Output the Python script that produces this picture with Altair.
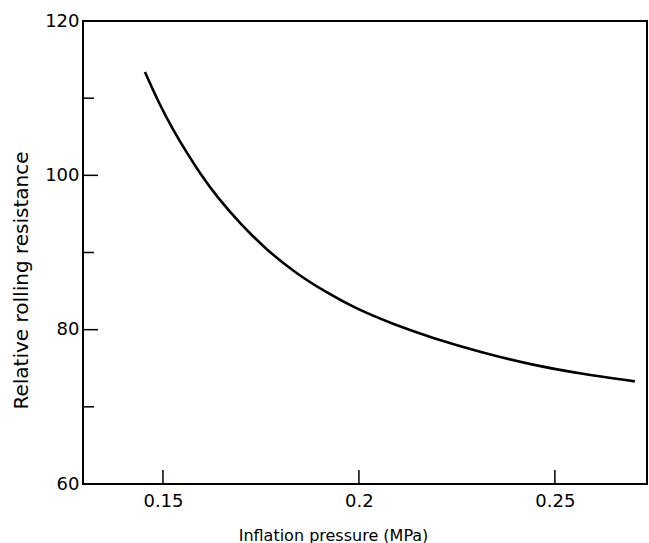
import altair as alt
import pandas as pd

pressure = [0.1454, 0.1492, 0.1526, 0.1561, 0.1594, 0.1638, 0.1696, 0.1765,
            0.1842, 0.1918, 0.1985, 0.2087, 0.2189, 0.2309, 0.2444, 0.2564, 0.2704]
resistance = [113.4, 109.1, 105.9, 102.9, 100.3, 97.2, 93.8, 90.3,
              87.2, 84.8, 82.9, 80.7, 78.9, 77.1, 75.4, 74.3, 73.3]

x_ticks = [0.15, 0.2, 0.25]
y_major = [60, 80, 100, 120]
y_minor = [70, 90, 110]

W, H = 564, 463
FONT = "DejaVu Sans"

xs = alt.Scale(domain=[0.1296, 0.2735], nice=False, zero=False)
ys = alt.Scale(domain=[60, 120], nice=False, zero=False)

df = pd.DataFrame({"p": pressure, "r": resistance})

line = alt.Chart(df).mark_line(color="black", strokeWidth=2.6, interpolate="basis").encode(
    x=alt.X("p:Q", scale=xs, title="Inflation pressure (MPa)",
            axis=alt.Axis(values=x_ticks, format="~g", domain=False, ticks=False, grid=False,
                          labelFont=FONT, labelFontSize=18, labelColor="black",
                          labelPadding=8,
                          titleFont=FONT, titleFontSize=16, titleFontWeight="normal",
                          titleColor="black", titleX=250, titleY=56,
                          titleBaseline="alphabetic", titleAlign="center")),
    y=alt.Y("r:Q", scale=ys, title="Relative rolling resistance",
            axis=alt.Axis(values=y_major, domain=False, ticks=False, grid=False,
                          labelFont=FONT, labelFontSize=18, labelColor="black",
                          labelPadding=4,
                          titleFont=FONT, titleFontSize=20, titleFontWeight="normal",
                          titleColor="black", titleX=-56, titleY=259, titleAngle=-90,
                          titleBaseline="alphabetic", titleAlign="center")),
)

ymaj = alt.Chart(pd.DataFrame({"v": y_major})).mark_rule(color="black", strokeWidth=1.5).encode(
    y=alt.Y("v:Q", scale=ys), x=alt.value(0), x2=alt.value(15))
ymin = alt.Chart(pd.DataFrame({"v": y_minor})).mark_rule(color="black", strokeWidth=1.5).encode(
    y=alt.Y("v:Q", scale=ys), x=alt.value(0), x2=alt.value(11))
xt = alt.Chart(pd.DataFrame({"v": x_ticks})).mark_rule(color="black", strokeWidth=1.5).encode(
    x=alt.X("v:Q", scale=xs), y=alt.value(H), y2=alt.value(H - 14))

chart = alt.layer(line, ymaj, ymin, xt).properties(
    width=W, height=H,
    autosize=alt.AutoSizeParams(type="none"),
    padding={"left": 83, "top": 21, "right": 2, "bottom": 59},
    background="white",
).configure_view(stroke="black", strokeWidth=2)

chart.save("out.html", embed_options={"renderer": "svg", "actions": False})
